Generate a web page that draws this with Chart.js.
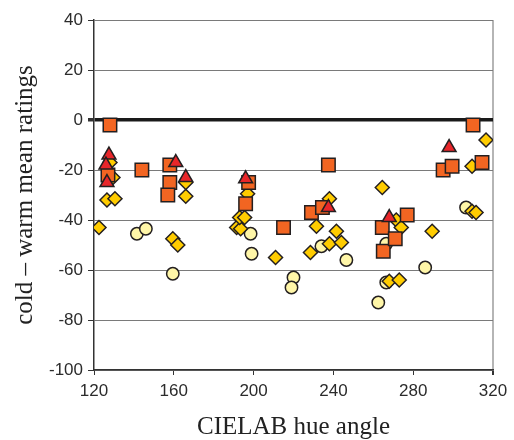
<!DOCTYPE html>
<html>
<head>
<meta charset="utf-8">
<script src="https://cdn.jsdelivr.net/npm/chart.js@4"></script>
<style>
  body { margin: 0; background: #fff; }
  canvas { display: block; }
</style>
</head>
<body>
<canvas id="chart" width="514" height="440"></canvas>
<script>
// hue angle / rating pairs
const circles = [
  [141.5, -45.5], [146, -43.5], [159.5, -61.5], [198.5, -45.5], [199, -53.5],
  [220, -63], [219, -67], [234, -50.5], [246.5, -56], [266.5, -49.5],
  [266.5, -65], [286, -59], [262.5, -73], [306.5, -35]
];
const diamonds = [
  [122.5, -43], [126.5, -32], [130.5, -31.5], [129.5, -23], [128, -17],
  [159.5, -47.5], [162, -50], [166, -30.5], [166, -25], [191.5, -43],
  [193.5, -43.5], [193, -39], [195.5, -39], [197, -29.5], [211, -55],
  [228.5, -53], [231.5, -42.5], [238, -31.5], [238, -49.5], [241.5, -44.5],
  [244, -49], [264.5, -27], [271.5, -40], [274, -43], [268, -64.5],
  [273, -64], [289.5, -44.5], [309.5, -18.5], [309.5, -36.5], [311.5, -37],
  [316.5, -8]
];
const squares = [
  [128, -2], [127, -22], [144, -20], [158, -18], [158, -25], [157, -30],
  [197.5, -25], [196, -33.5], [215, -43], [229, -37], [234.5, -35],
  [237.5, -18], [264.5, -43], [265, -52.5], [271, -47.5], [277, -38],
  [295, -20], [299.5, -18.5], [310, -2], [314.5, -17]
];
const triangles = [
  [127.5, -14], [126, -18], [126.5, -25], [161, -17], [166, -23],
  [196, -23.5], [237.5, -35], [268, -39], [298, -11]
];

const xTicks = [120, 160, 200, 240, 280, 320];
const yTicks = [40, 20, 0, -20, -40, -60, -80, -100];

function pts(arr) {
  return arr.map(p => ({ x: p[0], y: p[1] }));
}

function series(data, style, fill, radius, order) {
  return {
    data: pts(data),
    pointStyle: style,
    backgroundColor: fill,
    borderColor: '#231f20',
    borderWidth: 1.5,
    pointRadius: radius,
    showLine: false,
    order
  };
}

new Chart(document.getElementById('chart'), {
  type: 'scatter',
  data: {
    datasets: [
      series(triangles, 'triangle', '#e8262a', 8, 1),
      series(squares, 'rect', '#f26522', 9.5, 2),
      series(diamonds, 'rectRot', '#ffcc00', 7, 3),
      series(circles, 'circle', '#fff6a8', 6.2, 4)
    ]
  },
  options: {
    responsive: false,
    animation: false,
    layout: { padding: { top: 20, right: 21, left: 0, bottom: 0 } },
    plugins: { legend: { display: false }, tooltip: { enabled: false } },
    scales: {
      x: {
        type: 'linear',
        min: 120,
        max: 320,
        afterBuildTicks: s => { s.ticks = xTicks.map(v => ({ value: v })); },
        afterFit: s => { s.height = 70; },
        ticks: {
          color: '#2b2b2b',
          font: { family: 'Liberation Sans', size: 17 },
          padding: 6
        },
        grid: {
          color: c => (c.tick && c.tick.value === 320 ? '#b5b5b5' : 'rgba(0,0,0,0)'),
          lineWidth: c => (c.tick && c.tick.value === 320 ? 2 : 1),
          tickColor: '#333',
          tickLength: 5
        },
        border: { color: '#333', width: 1.5 },
        title: {
          display: true,
          text: 'CIELAB hue angle',
          color: '#222',
          font: { family: 'Liberation Serif', size: 25, lineHeight: 1 },
          padding: { top: -1, bottom: 0 }
        }
      },
      y: {
        min: -100,
        max: 40,
        afterBuildTicks: s => { s.ticks = yTicks.map(v => ({ value: v })); },
        afterFit: s => { s.width = 94; },
        ticks: {
          color: '#2b2b2b',
          font: { family: 'Liberation Sans', size: 17 },
          padding: 5
        },
        grid: {
          color: c => (c.tick && c.tick.value === 0 ? '#1a1a1a' : '#7a7a7a'),
          lineWidth: c => (c.tick && c.tick.value === 0 ? 3.5 : 1),
          tickColor: '#333',
          tickLength: 6
        },
        border: { color: '#333', width: 1.5 },
        title: {
          display: true,
          text: 'cold \u2013 warm mean ratings',
          color: '#222',
          font: { family: 'Liberation Serif', size: 25, lineHeight: 1 },
          padding: { top: 13, bottom: 0 }
        }
      }
    }
  }
});
</script>
</body>
</html>
